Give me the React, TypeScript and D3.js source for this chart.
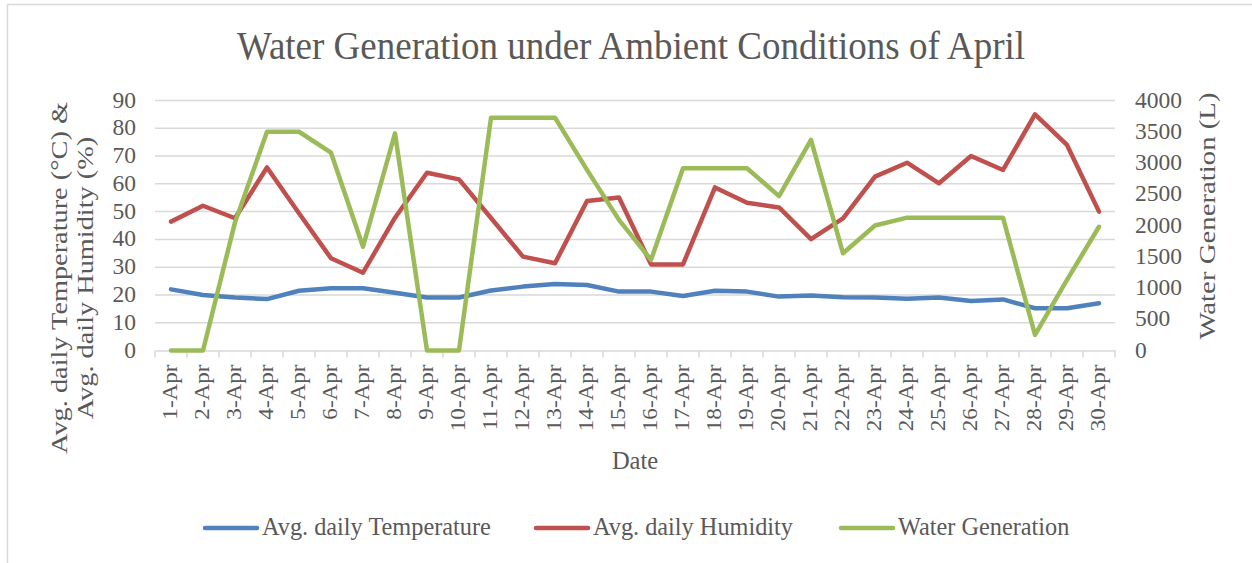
import { useRef, useEffect } from 'react';
import * as d3 from 'd3';

const dates = Array.from({ length: 30 }, (_, i) => `${i + 1}-Apr`);

const temperature = [
  22.0, 20.0, 19.1, 18.5, 21.5, 22.4, 22.4, 20.8, 19.1, 19.1,
  21.6, 23.0, 23.9, 23.6, 21.2, 21.2, 19.6, 21.5, 21.2, 19.4,
  19.8, 19.2, 19.1, 18.6, 19.1, 17.8, 18.4, 15.2, 15.2, 17.0,
];

const humidity = [
  46.4, 52.1, 47.6, 65.9, 49.4, 33.2, 28.0, 47.8, 64.0, 61.6,
  47.7, 33.8, 31.4, 53.8, 55.1, 31.0, 31.0, 58.7, 53.2, 51.5,
  40.1, 47.6, 62.6, 67.6, 60.2, 70.0, 65.0, 85.0, 74.0, 50.0,
];

const water = [
  0, 0, 2050, 3500, 3500, 3165, 1660, 3475, 0, 0,
  3725, 3725, 3725, 2890, 2090, 1450, 2915, 2915, 2915, 2470,
  3370, 1555, 2000, 2125, 2125, 2125, 2125, 250, 1130, 1980,
];

const leftTicks = [0, 10, 20, 30, 40, 50, 60, 70, 80, 90];
const rightTicks = [0, 500, 1000, 1500, 2000, 2500, 3000, 3500, 4000];

const legendItems = [
  { name: 'Avg. daily Temperature', color: '#4f81bd' },
  { name: 'Avg. daily Humidity', color: '#c0504d' },
  { name: 'Water Generation', color: '#9bbb59' },
];

const App = () => {
  const svgRef = useRef(null);

  useEffect(() => {
    const svg = d3.select(svgRef.current);
    svg.selectAll('*').remove();
    const width = 1252;
    const height = 563;
    const font = '"Liberation Serif", "Times New Roman", serif';
    const textColor = '#595959';
    const grid = '#d9d9d9';

    const left = 155, right = 1115, top = 100.5, bottom = 350.5;

    svg
      .attr('width', width)
      .attr('height', height)
      .style('font-family', font);

    // chart frame
    svg.append('rect')
      .attr('x', 7.5).attr('y', 4.5)
      .attr('width', width + 10).attr('height', height + 10)
      .attr('fill', 'white')
      .attr('stroke', grid)
      .attr('stroke-width', 1.5);

    const x = d3.scaleBand().domain(dates).range([left, right]);
    const yL = d3.scaleLinear().domain([0, 90]).range([bottom, top]);
    const yR = d3.scaleLinear().domain([0, 4000]).range([bottom, top]);

    svg.append('text')
      .attr('transform', 'translate(631,59) scale(1,1.08)')
      .attr('text-anchor', 'middle')
      .attr('font-size', 37)
      .attr('fill', textColor)
      .text('Water Generation under Ambient Conditions of April');

    // gridlines
    svg.append('g')
      .selectAll('line')
      .data(leftTicks.slice(1))
      .join('line')
      .attr('x1', left).attr('x2', right)
      .attr('y1', d => yL(d)).attr('y2', d => yL(d))
      .attr('stroke', grid)
      .attr('stroke-width', 1.5);

    // x axis
    const xAxis = svg.append('g')
      .attr('transform', `translate(0,${bottom})`)
      .call(d3.axisBottom(x).tickSize(0).tickPadding(0).tickFormat(() => ''));
    xAxis.select('.domain').attr('stroke', grid).attr('stroke-width', 1.5);

    const boundaries = d3.range(dates.length + 1).map(i => left + i * x.bandwidth());
    svg.append('g')
      .selectAll('line')
      .data(boundaries)
      .join('line')
      .attr('x1', d => d).attr('x2', d => d)
      .attr('y1', bottom).attr('y2', bottom + 7)
      .attr('stroke', grid)
      .attr('stroke-width', 1.5);

    svg.append('g')
      .selectAll('text')
      .data(dates)
      .join('text')
      .attr('transform', d => `translate(${x(d) + x.bandwidth() / 2 + 6},${bottom + 14}) rotate(-90) scale(1.1,1)`)
      .attr('text-anchor', 'end')
      .attr('font-size', 21)
      .attr('fill', textColor)
      .text(d => d);

    // left axis labels
    svg.append('g')
      .selectAll('text')
      .data(leftTicks)
      .join('text')
      .attr('x', 136)
      .attr('y', d => yL(d) + 7)
      .attr('text-anchor', 'end')
      .attr('font-size', 23.5)
      .attr('fill', textColor)
      .text(d => d);

    // right axis labels
    svg.append('g')
      .selectAll('text')
      .data(rightTicks)
      .join('text')
      .attr('x', 1135)
      .attr('y', d => yR(d) + 7)
      .attr('text-anchor', 'start')
      .attr('font-size', 23.5)
      .attr('fill', textColor)
      .text(d => d);

    // axis titles
    const leftTitle = svg.append('text')
      .attr('transform', 'translate(0,278) rotate(-90) scale(1.18,1)')
      .attr('text-anchor', 'middle')
      .attr('font-size', 24)
      .attr('fill', textColor);
    leftTitle.append('tspan').attr('x', 0).attr('y', 67).text('Avg. daily Temperature (°C) &');
    leftTitle.append('tspan').attr('x', 0).attr('y', 93).text('Avg. daily Humidity (%)');

    svg.append('text')
      .attr('transform', 'translate(1215,216) rotate(-90) scale(1.2,1)')
      .attr('text-anchor', 'middle')
      .attr('font-size', 24)
      .attr('fill', textColor)
      .text('Water Generation (L)');

    svg.append('text')
      .attr('x', 635).attr('y', 469)
      .attr('text-anchor', 'middle')
      .attr('font-size', 24.5)
      .attr('fill', textColor)
      .text('Date');

    // series
    const cx = (i: number) => x(dates[i]) + x.bandwidth() / 2;
    const lineL = d3.line<number>().x((_, i) => cx(i)).y(d => yL(d));
    const lineR = d3.line<number>().x((_, i) => cx(i)).y(d => yR(d));

    const series = [
      { values: temperature, line: lineL, color: legendItems[0].color },
      { values: humidity, line: lineL, color: legendItems[1].color },
      { values: water, line: lineR, color: legendItems[2].color },
    ];

    svg.append('g')
      .selectAll('path')
      .data(series)
      .join('path')
      .attr('d', d => d.line(d.values))
      .attr('fill', 'none')
      .attr('stroke', d => d.color)
      .attr('stroke-width', 4.5)
      .attr('stroke-linejoin', 'round')
      .attr('stroke-linecap', 'round');

    // legend
    const legendX = [205, 536, 841];
    const legend = svg.append('g')
      .selectAll('g')
      .data(legendItems)
      .join('g')
      .attr('transform', (_, i) => `translate(${legendX[i]},528)`);
    legend.append('line')
      .attr('x1', 0).attr('x2', 52)
      .attr('stroke', d => d.color)
      .attr('stroke-width', 4.5)
      .attr('stroke-linecap', 'round');
    legend.append('text')
      .attr('x', 57).attr('y', 7)
      .attr('font-size', 24.3)
      .attr('fill', textColor)
      .text(d => d.name);
  }, []);

  return (
    <svg ref={svgRef} style={{ position: 'absolute', left: 0, top: 0 }}></svg>
  );
};

export default App;
